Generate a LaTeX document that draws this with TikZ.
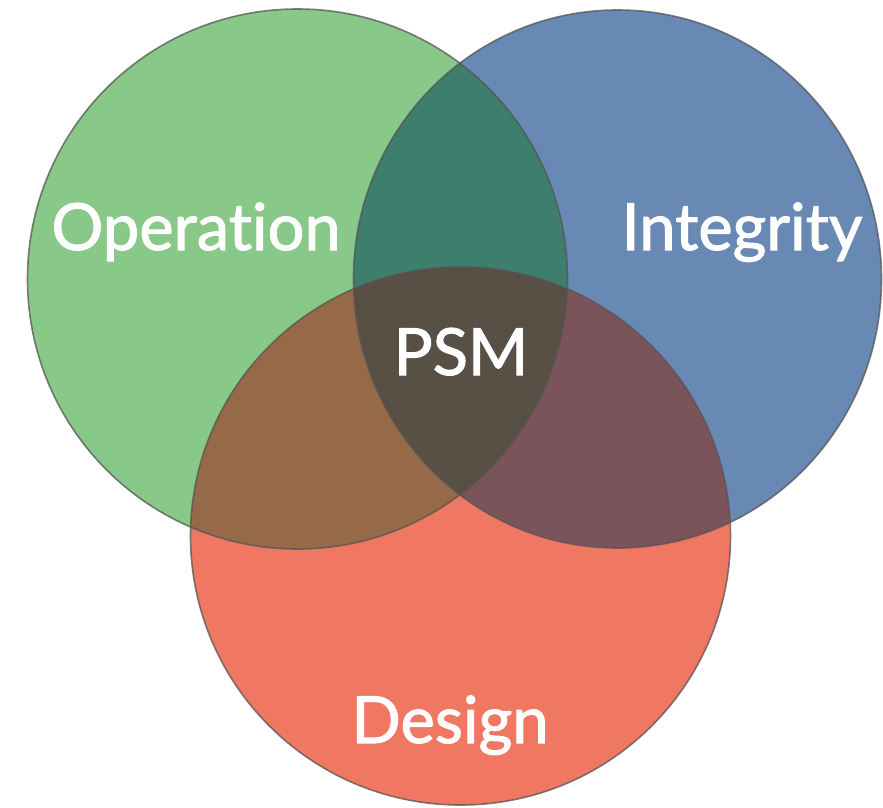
\documentclass[tikz,border=0pt]{standalone}
\usepackage{fontspec}
\setmainfont[Ligatures=NoCommon, FakeBold=1.6]{Lato}
\definecolor{cg}{HTML}{88C888}
\definecolor{cb}{HTML}{6789B4}
\definecolor{cr}{HTML}{F07762}
\definecolor{cgb}{HTML}{3D7E6C}
\definecolor{cgr}{HTML}{966948}
\definecolor{cbr}{HTML}{7B535A}
\definecolor{call}{HTML}{584F45}
\definecolor{edgec}{HTML}{555555}
\tikzset{
  edge/.style={draw=edgec, line width=1.6pt, draw opacity=0.75},
  lbl/.style={text=white, anchor=base, inner sep=0pt, font=\fontsize{65}{78}\selectfont}
}
\begin{document}
\begin{tikzpicture}[x=1pt,y=-1pt]
\useasboundingbox (0,0) rectangle (883,808);
\def\G{(297.5,279) ellipse [x radius=270, y radius=270]}
\def\B{(617.5,279) ellipse [x radius=264, y radius=269]}
\def\R{(460.5,536) ellipse [x radius=270, y radius=269]}
\fill[cg] \G;
\fill[cb] \B;
\fill[cr] \R;
\begin{scope}\clip \G; \fill[cgb] \B; \end{scope}
\begin{scope}\clip \G; \fill[cgr] \R; \end{scope}
\begin{scope}\clip \B; \fill[cbr] \R; \end{scope}
\begin{scope}\clip \G; \clip \B; \fill[call] \R; \end{scope}
\draw[edge] \G;
\draw[edge] \B;
\draw[edge] \R;
\node[lbl] (op) at (196,250) {Operation};
\node[lbl] (in) at (742,250) {Integrity};
\node[lbl] (psm) at (461,375) {PSM};
\node[lbl] (de) at (450,743) {Design};
\end{tikzpicture}
\end{document}
